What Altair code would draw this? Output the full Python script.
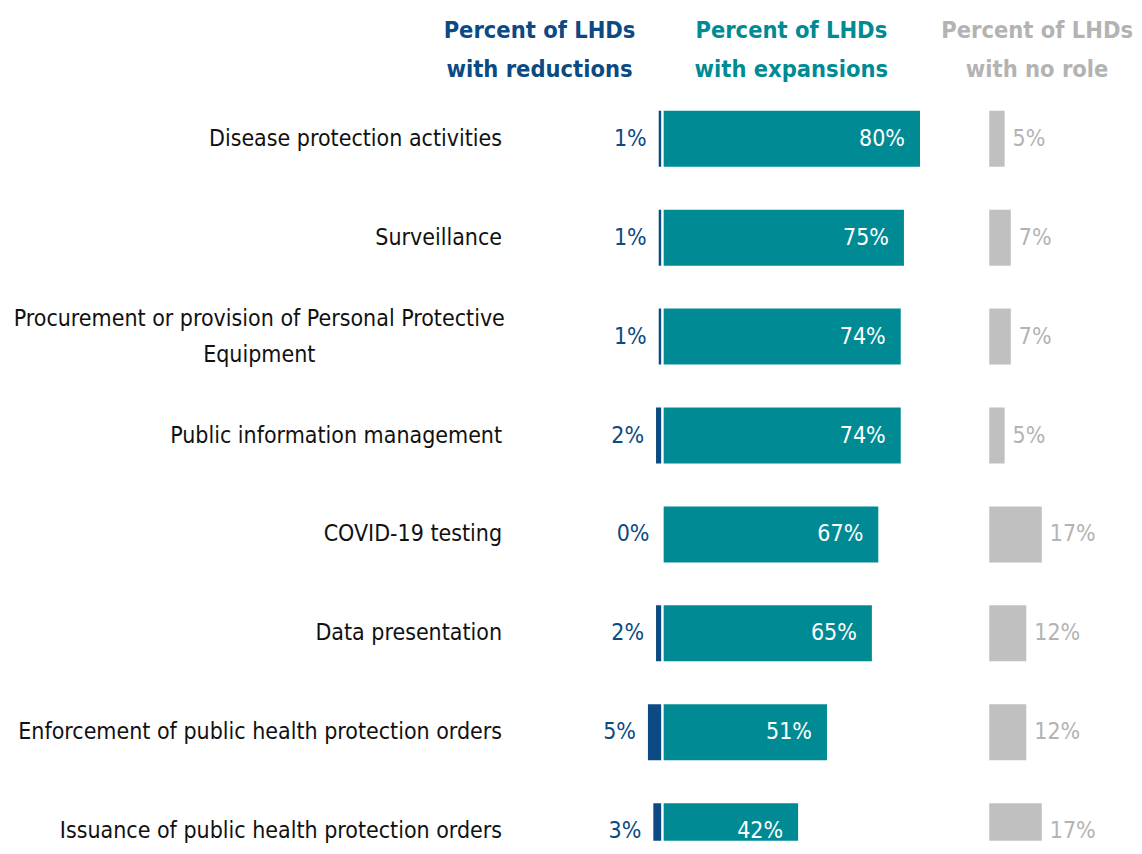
import altair as alt
import pandas as pd

categories = [
    "Disease protection activities",
    "Surveillance",
    "Procurement or provision of Personal Protective Equipment",
    "Public information management",
    "COVID-19 testing",
    "Data presentation",
    "Enforcement of public health protection orders",
    "Issuance of public health protection orders",
]
reductions = [1, 1, 1, 2, 0, 2, 5, 3]
expansions = [80, 75, 74, 74, 67, 65, 51, 42]
no_role = [5, 7, 7, 5, 17, 12, 12, 17]

headers = {
    "reductions": ["Percent of LHDs", "with reductions"],
    "expansions": ["Percent of LHDs", "with expansions"],
    "no_role": ["Percent of LHDs", "with no role"],
}

df = pd.DataFrame({
    "category": categories,
    "reductions": reductions,
    "expansions": expansions,
    "no_role": no_role,
})

FONT = "DejaVu Sans Condensed, sans-serif"
DARK = "#0b4a82"
TEAL = "#008b94"
GRAY = "#c0c0c0"
GRAY_TXT = "#b3b3b3"
LABEL = "#111111"
FS = 23

STEP = 99
ROWS_H = STEP * len(categories)   # scale range for all rows
PLOT_H = 752                      # visible plot area (last row is cut, as in reference)
W1, W2, W3 = 60, 324, 120

long_label = "Procurement or provision of Personal Protective Equipment"
test = "indexof(datum.value, 'Procurement') === 0"

yscale = alt.Scale(paddingInner=0.434, paddingOuter=0.217, range=[0, ROWS_H])

y_axis = alt.Axis(
    title=None, domain=False, ticks=False, grid=False,
    labelFont=FONT, labelFontSize=FS, labelColor=LABEL, labelLimit=0,
    labelBaseline="middle", labelLineHeight=36,
    labelExpr="datum.label == '" + long_label + "' ? ['Procurement or provision of Personal Protective', 'Equipment'] : datum.label",
    labelAlign={"condition": {"test": test, "value": "center"}, "value": "right"},
    labelPadding={"condition": {"test": test, "value": 343}, "value": 100},
    labelOffset={"condition": {"test": test, "value": -18}, "value": 0},
)

base = alt.Chart(df)

def title(key, color, dx):
    return alt.TitleParams(
        text=headers[key], font=FONT, fontSize=23.5, fontWeight="bold",
        color=color, anchor="middle", dx=dx, lineHeight=39, offset=8,
    )

# Panel 1: reductions
y1 = alt.Y("category:N", sort=categories, scale=yscale, axis=y_axis)
x1 = alt.X("reductions:Q", scale=alt.Scale(domain=[0, W1 / 2.7], reverse=True), axis=None)
p1 = alt.layer(
    base.mark_bar(color=DARK, clip=True).encode(x=x1, y=y1),
    base.transform_calculate(lbl="datum.reductions + '%'").mark_text(
        align="right", baseline="middle", dx=-12, font=FONT, fontSize=FS, color=DARK
    ).encode(x=x1, y=y1, text="lbl:N"),
).properties(width=W1, height=PLOT_H, title=title("reductions", DARK, -92))

# Panel 2: expansions
y2 = alt.Y("category:N", sort=categories, scale=yscale, axis=None)
x2 = alt.X("expansions:Q", scale=alt.Scale(domain=[0, W2 / 3.21]), axis=None)
p2 = alt.layer(
    base.mark_bar(color=TEAL, clip=True).encode(x=x2, y=y2),
    base.transform_calculate(lbl="datum.expansions + '%'").mark_text(
        align="right", baseline="middle", dx=-15, font=FONT, fontSize=FS, color="white"
    ).encode(x=x2, y=y2, text="lbl:N"),
).properties(width=W2, height=PLOT_H, title=title("expansions", TEAL, -34))

# Panel 3: no role
x3 = alt.X("no_role:Q", scale=alt.Scale(domain=[0, W3 / 3.1]), axis=None)
p3 = alt.layer(
    base.mark_bar(color=GRAY, clip=True).encode(x=x3, y=y2),
    base.transform_calculate(lbl="datum.no_role + '%'").mark_text(
        align="left", baseline="middle", dx=8, font=FONT, fontSize=FS, color=GRAY_TXT
    ).encode(x=x3, y=y2, text="lbl:N"),
).properties(width=W3, height=PLOT_H, title=title("no_role", GRAY_TXT, -12))

chart = alt.hconcat(p1, p2, p3, spacing=2, bounds="flush").configure_view(strokeWidth=0).properties(
    padding={"left": 5, "top": 10, "right": 0, "bottom": 0}
)

chart.save("out.html", embed_options={"renderer": "svg", "actions": False})
